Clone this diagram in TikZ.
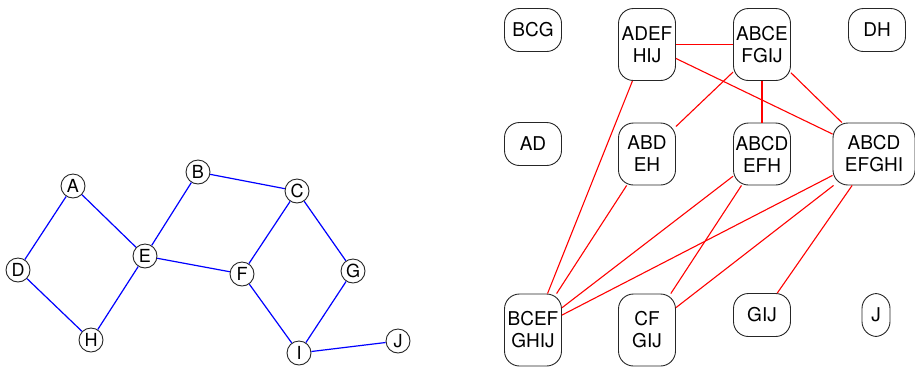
\documentclass[tikz,border=0pt]{standalone}
\usepackage{fontspec}
\setmainfont{TeX Gyre Heros}

\tikzset{
    vertex/.style={circle, draw=black!85, fill=white, line width=0.9pt, inner sep=0pt, minimum size=24pt, font=\fontsize{18}{20}\selectfont},
    clique/.style={draw=black!85, line width=0.9pt, rounded corners=15pt, align=center, minimum width=57pt, inner sep=2pt, font=\fontsize{19}{22}\selectfont},
    tallbox/.style={minimum height=72pt},
    midbox/.style={minimum height=62pt},
    lowbox/.style={minimum height=43pt},
    graphedge/.style={blue, line width=1.2pt},
    cliqueedge/.style={red, line width=1.1pt}
}

\begin{document}
\begin{tikzpicture}[x=1pt,y=-1pt] %Grafo y su grafo de cliques
            \useasboundingbox (0,0) rectangle (915,368);

            \node[vertex] (A) at (73,186) {A};
            \node[vertex] (B) at (198,172) {B};
            \node[vertex] (C) at (297,191) {C};
            \node[vertex] (D) at (18,270) {D};
            \node[vertex] (E) at (145,256) {E};
            \node[vertex] (F) at (242,274) {F};
            \node[vertex] (G) at (353,271) {G};
            \node[vertex] (H) at (91,340) {H};
            \node[vertex] (I) at (299,353) {I};
            \node[vertex] (J) at (398,341) {J};

            \draw[graphedge] (A) -- (D);
            \draw[graphedge] (A) -- (E);
            \draw[graphedge] (D) -- (H);
            \draw[graphedge] (H) -- (E);
            \draw[graphedge] (E) -- (B);
            \draw[graphedge] (B) -- (C);
            \draw[graphedge] (E) -- (F);
            \draw[graphedge] (C) -- (F);
            \draw[graphedge] (C) -- (G);
            \draw[graphedge] (F) -- (I);
            \draw[graphedge] (G) -- (I);
            \draw[graphedge] (I) -- (J);

            \node[clique, lowbox] (bcg) at (533,30) {BCG};
            \node[clique, tallbox] (adefhij) at (647,44.5) {ADEF\\HIJ};
            \node[clique, tallbox] (abcefgij) at (762,44.5) {ABCE\\FGIJ};
            \node[clique, lowbox] (dh) at (877,30) {DH};

            \node[clique, lowbox] (ad) at (533,144) {AD};
            \node[clique, midbox] (abdeh) at (647,154) {ABD\\EH};
            \node[clique, midbox] (abcdefh) at (762,154) {ABCD\\EFH};
            \node[clique, midbox, minimum width=82pt] (abcdefghi) at (874,154) {ABCD\\EFGHI};

            \node[clique, tallbox] (bcefghij) at (533,330) {BCEF\\GHIJ};
            \node[clique, tallbox] (cfgij) at (647,330) {CF\\GIJ};
            \node[clique, lowbox] (gij) at (762,315) {GIJ};
            \node[clique, lowbox, minimum width=28pt] (j) at (876,315) {J};

            \draw[cliqueedge] (adefhij) -- (abcefgij);
            \draw[cliqueedge] (adefhij) -- (abcdefghi);
            \draw[cliqueedge] (adefhij) -- (bcefghij);
            \draw[cliqueedge] (abcefgij) -- (abdeh);
            \draw[cliqueedge] (abcefgij) -- (abcdefh);
            \draw[cliqueedge] (abcefgij) -- (abcdefghi);
            \draw[cliqueedge] (abdeh) -- (bcefghij);
            \draw[cliqueedge] (abcdefh) -- (bcefghij);
            \draw[cliqueedge] (abcdefh) -- (cfgij);
            \draw[cliqueedge] (abcdefghi) -- (bcefghij);
            \draw[cliqueedge] (abcdefghi) -- (cfgij);
            \draw[cliqueedge] (abcdefghi) -- (gij);
        \end{tikzpicture}
\end{document}
